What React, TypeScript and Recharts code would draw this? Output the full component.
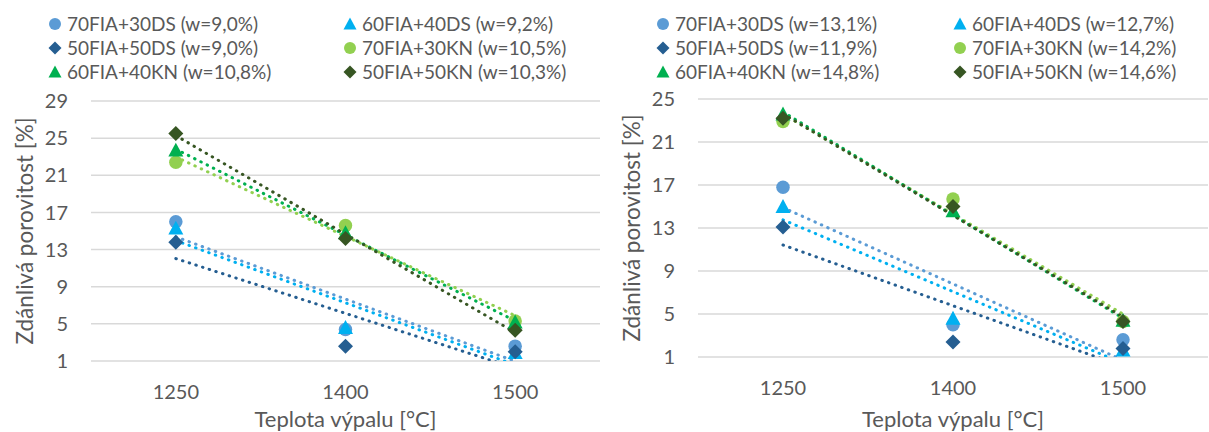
import React from "react";
import { ComposedChart, Line, XAxis, YAxis, CartesianGrid } from "recharts";

const categories = ["1250", "1400", "1500"];

// levý graf
const leftLabels = [
  "70FIA+30DS (w=9,0%)",
  "60FIA+40DS (w=9,2%)",
  "50FIA+50DS (w=9,0%)",
  "70FIA+30KN (w=10,5%)",
  "60FIA+40KN (w=10,8%)",
  "50FIA+50KN (w=10,3%)",
];
const left70DS = [16.0, 4.4, 2.6];
const left60DS = [15.3, 4.6, 1.9];
const left50DS = [13.8, 2.6, 2.0];
const left70KN = [22.4, 15.6, 5.3];
const left60KN = [23.7, 14.8, 5.2];
const left50KN = [25.5, 14.2, 4.3];
// lineární spojnice trendu (začátek, konec)
const leftTrend70DS = [14.37, null, 0.97];
const leftTrend60DS = [13.97, null, 0.57];
const leftTrend50DS = [12.03, null, 0.23];
const leftTrend70KN = [22.98, null, 5.88];
const leftTrend60KN = [23.82, null, 5.32];
const leftTrend50KN = [25.27, null, 4.07];
const leftTicks = [1, 5, 9, 13, 17, 21, 25, 29];

// pravý graf
const rightLabels = [
  "70FIA+30DS (w=13,1%)",
  "60FIA+40DS (w=12,7%)",
  "50FIA+50DS (w=11,9%)",
  "70FIA+30KN (w=14,2%)",
  "60FIA+40KN (w=14,8%)",
  "50FIA+50KN (w=14,6%)",
];
const right70DS = [16.8, 4.0, 2.6];
const right60DS = [15.0, 4.6, 1.65];
const right50DS = [13.1, 2.4, 1.8];
const right70KN = [22.9, 15.7, 4.3];
const right60KN = [23.6, 14.6, 4.4];
const right50KN = [23.2, 15.0, 4.3];
const rightTrend70DS = [14.9, null, 0.7];
const rightTrend60DS = [13.76, null, 0.41];
const rightTrend50DS = [11.42, null, 0.12];
const rightTrend70KN = [23.6, null, 5.0];
const rightTrend60KN = [23.8, null, 4.6];
const rightTrend50KN = [23.62, null, 4.72];
const rightTicks = [1, 5, 9, 13, 17, 21, 25];

const colors = ["#5B9BD5", "#00B0F0", "#255E91", "#92D050", "#00B050", "#375623"];
const shapes = ["circle", "triangle", "diamond", "circle", "triangle", "diamond"];

const FONT = "Lato, 'Open Sans', sans-serif";
const TEXT = "#595959";

type Shape = "circle" | "triangle" | "diamond";

function Marker({ shape, color, cx, cy, size }: { shape: Shape; color: string; cx: number; cy: number; size: number }) {
  const h = size / 2;
  if (shape === "circle") return <circle cx={cx} cy={cy} r={h} fill={color} />;
  if (shape === "diamond")
    return <polygon points={`${cx},${cy - h} ${cx + h},${cy} ${cx},${cy + h} ${cx - h},${cy}`} fill={color} />;
  return (
    <polygon
      points={`${cx},${cy - h} ${cx + h},${cy + h * 0.85} ${cx - h},${cy + h * 0.85}`}
      fill={color}
    />
  );
}

function LegendGrid({ labels, left, colWidth }: { labels: string[]; left: number; colWidth: number }) {
  return (
    <div
      style={{
        position: "absolute",
        top: 12,
        left,
        display: "grid",
        gridTemplateColumns: `${colWidth}px ${colWidth}px`,
        fontFamily: FONT,
        fontSize: 19,
        color: TEXT,
        lineHeight: "24px",
        whiteSpace: "nowrap",
      }}
    >
      {labels.map((l, i) => (
        <div key={l} style={{ display: "flex", alignItems: "center", height: 24 }}>
          <svg width={14} height={14} style={{ marginRight: 5 }}>
            <Marker shape={shapes[i] as Shape} color={colors[i]} cx={7} cy={7} size={i % 3 === 0 ? 12 : 13} />
          </svg>
          {l}
        </div>
      ))}
    </div>
  );
}

type Props = {
  width: number;
  labels: string[];
  values: number[][];
  trends: (number | null)[][];
  ticks: number[];
  yAxisWidth: number;
  top: number;
  right: number;
  xAxisHeight: number;
  legendLeft: number;
  legendCol: number;
  titleX: number;
};

function PorosityChart(p: Props) {
  const data = categories.map((c, i) => {
    const row: Record<string, string | number | null> = { temp: c };
    p.values.forEach((v, k) => {
      row[`v${k}`] = v[i];
      row[`t${k}`] = p.trends[k][i];
    });
    return row;
  });

  return (
    <div style={{ position: "relative", width: p.width, height: 432 }}>
      <ComposedChart
        width={p.width}
        height={432}
        data={data}
        margin={{ top: p.top, right: p.right, bottom: 0, left: 0 }}
      >
        <CartesianGrid vertical={false} stroke="#d9d9d9" strokeWidth={1.5} />
        <XAxis
          dataKey="temp"
          scale="band"
          axisLine={false}
          tickLine={false}
          tickSize={0}
          tickMargin={24}
          height={p.xAxisHeight}
          tick={{ fill: TEXT, fontSize: 20, fontFamily: FONT }}
          label={{
            value: "Teplota výpalu [°C]",
            position: "insideBottom",
            offset: 5,
            fill: TEXT,
            fontSize: 22,
            fontFamily: FONT,
          }}
        />
        <YAxis
          domain={[p.ticks[0], p.ticks[p.ticks.length - 1]]}
          ticks={p.ticks}
          allowDataOverflow
          width={p.yAxisWidth}
          axisLine={false}
          tickLine={false}
          tickSize={0}
          tickMargin={23}
          tick={{ fill: TEXT, fontSize: 20, fontFamily: FONT }}
          label={{
            content: (lp: any) => {
              const vb = lp.viewBox || {};
              const cx = (vb.x ?? 0) + p.titleX;
              const cy = (vb.y ?? 0) + (vb.height ?? 0) / 2;
              return (
                <text
                  x={cx}
                  y={cy}
                  transform={`rotate(-90 ${cx} ${cy})`}
                  textAnchor="middle"
                  dominantBaseline="central"
                  fill={TEXT}
                  fontSize={22.5}
                  fontFamily={FONT}
                >
                  Zdánlivá porovitost [%]
                </text>
              );
            },
          }}
        />
        {p.values.map((_, k) => (
          <Line
            key={`v${k}`}
            dataKey={`v${k}`}
            stroke="none"
            isAnimationActive={false}
            activeDot={false}
            dot={(d: any) =>
              d.cy == null ? (
                <g key={`d${k}-${d.index}`} />
              ) : (
                <Marker
                  key={`d${k}-${d.index}`}
                  shape={shapes[k] as Shape}
                  color={colors[k]}
                  cx={d.cx}
                  cy={d.cy}
                  size={k % 3 === 0 ? 13.5 : 15}
                />
              )
            }
          />
        ))}
        {p.trends.map((_, k) => (
          <Line
            key={`t${k}`}
            dataKey={`t${k}`}
            stroke={colors[k]}
            strokeWidth={3}
            strokeDasharray="0.5 6.5"
            strokeLinecap="round"
            dot={false}
            activeDot={false}
            connectNulls
            isAnimationActive={false}
          />
        ))}
      </ComposedChart>
      <LegendGrid labels={p.labels} left={p.legendLeft} colWidth={p.legendCol} />
    </div>
  );
}

export default function App() {
  return (
    <div style={{ position: "absolute", left: 0, top: 0, width: 1209, height: 432, display: "flex", background: "#fff" }}>
      <PorosityChart
        width={604}
        labels={leftLabels}
        values={[left70DS, left60DS, left50DS, left70KN, left60KN, left50KN]}
        trends={[leftTrend70DS, leftTrend60DS, leftTrend50DS, leftTrend70KN, leftTrend60KN, leftTrend50KN]}
        ticks={leftTicks}
        yAxisWidth={91}
        top={101}
        right={4}
        xAxisHeight={71}
        legendLeft={48}
        legendCol={295}
        titleX={24}
      />
      <PorosityChart
        width={605}
        labels={rightLabels}
        values={[right70DS, right60DS, right50DS, right70KN, right60KN, right50KN]}
        trends={[rightTrend70DS, rightTrend60DS, rightTrend50DS, rightTrend70KN, rightTrend60KN, rightTrend50KN]}
        ticks={rightTicks}
        yAxisWidth={94}
        top={99}
        right={1}
        xAxisHeight={75}
        legendLeft={52}
        legendCol={297}
        titleX={27}
      />
    </div>
  );
}
